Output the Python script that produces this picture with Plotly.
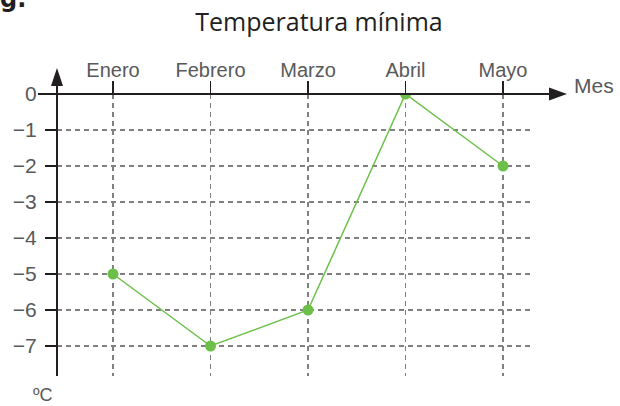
import plotly.graph_objects as go

# ---- data ----
months = ["Enero", "Febrero", "Marzo", "Abril", "Mayo"]
temps = [-5, -7, -6, 0, -2]
y_ticks = [0, -1, -2, -3, -4, -5, -6, -7]
y_ticktext = ["0", "−1", "−2", "−3", "−4", "−5", "−6", "−7"]
title_text = "Temperatura mínima"
x_title = "Mes"
y_title = "ºC"

W, H = 620, 406
L, R, T, B = 57, 533, 94, 376  # plot area in pixels


def px(xp):
    return (xp - L) / (R - L)


def py(yp):
    return (B - yp) / (B - T)


AX = "#231f20"
LBL = "#58595b"
GREEN = "#6cc04a"
GRID = "#808080"
NARROW = "Liberation Sans, Arial, sans-serif"
SANS = "Open Sans, Noto Sans, sans-serif"

fig = go.Figure()
fig.add_trace(go.Scatter(
    x=months, y=temps, mode="lines+markers",
    line=dict(color=GREEN, width=1.5),
    marker=dict(color=GREEN, size=11),
    hoverinfo="skip", showlegend=False,
))

shapes = [
    # x axis line
    dict(type="line", xref="paper", yref="paper", x0=px(38), x1=px(552), y0=1, y1=1,
         line=dict(color=AX, width=2)),
    # x arrow
    dict(type="path", xref="paper", yref="paper",
         path=f"M {px(567)} {py(94)} L {px(549)} {py(87.5)} L {px(549)} {py(100.5)} Z",
         fillcolor=AX, line=dict(width=0)),
    # y axis line
    dict(type="line", xref="paper", yref="paper", x0=0, x1=0, y0=py(376), y1=py(84),
         line=dict(color=AX, width=2)),
    # y arrow
    dict(type="path", xref="paper", yref="paper",
         path=f"M {px(57)} {py(68)} L {px(51)} {py(86)} L {px(63)} {py(86)} Z",
         fillcolor=AX, line=dict(width=0)),
]

annotations = [
    dict(text=x_title, xref="paper", yref="paper", x=px(594), y=py(85),
         xanchor="center", yanchor="middle", showarrow=False,
         font=dict(family=NARROW, size=21, color=LBL)),
    dict(text=y_title, xref="paper", yref="paper", x=px(43), y=py(395),
         xanchor="center", yanchor="middle", showarrow=False,
         font=dict(family=NARROW, size=18, color=LBL)),
    dict(text="<b>g.</b>", xref="paper", yref="paper", x=px(-2), y=py(15),
         xanchor="left", yanchor="bottom", showarrow=False,
         font=dict(family="DejaVu Sans, sans-serif", size=24, color="#231f20")),
]

fig.update_layout(
    width=W, height=H,
    margin=dict(l=L, r=W - R, t=T, b=H - B, pad=0, autoexpand=False),
    paper_bgcolor="white", plot_bgcolor="white",
    title=dict(text=title_text, x=319 / W, y=1 - 22 / H, xanchor="center", yanchor="middle",
               font=dict(family=SANS, size=25, color=AX)),
    xaxis=dict(
        type="category", categoryorder="array", categoryarray=months,
        range=[(L - 113) / 97.5, (R - 113) / 97.5], automargin=False,
        side="top", ticks="outside", ticklen=12, tickwidth=1.5, tickcolor=AX,
        showline=False, zeroline=False,
        showgrid=True, gridcolor=GRID, gridwidth=1.2, griddash="5px,4px",
        tickfont=dict(family=NARROW, size=20, color=LBL),
        ticklabelstandoff=-4,
        fixedrange=True,
    ),
    xaxis2=dict(
        type="category", categoryorder="array", categoryarray=months,
        overlaying="x", matches="x", anchor="y", side="top", automargin=False,
        ticks="inside", ticklen=12, tickwidth=1.5, tickcolor=AX,
        showticklabels=False, showgrid=False, showline=False, zeroline=False,
    ),
    yaxis=dict(
        range=[-(B - T) / 36, 0], automargin=False,
        tickvals=y_ticks, ticktext=y_ticktext,
        ticks="outside", ticklen=11, tickwidth=2, tickcolor=AX,
        showline=False, zeroline=False,
        showgrid=True, gridcolor=GRID, gridwidth=1.2, griddash="5px,4px",
        tickfont=dict(family=NARROW, size=21, color=LBL),
        ticklabelstandoff=4,
        fixedrange=True,
    ),
    yaxis2=dict(
        overlaying="y", matches="y", anchor="x", side="left", automargin=False,
        tickvals=y_ticks[1:], ticks="inside", ticklen=11, tickwidth=2, tickcolor=AX,
        showticklabels=False, showgrid=False, showline=False, zeroline=False,
    ),
    shapes=shapes,
    annotations=annotations,
)

fig.write_html(
    "out.html",
    config={"displayModeBar": False, "staticPlot": True},
    post_script="document.body.style.margin='0';document.body.style.overflow='hidden';",
)
